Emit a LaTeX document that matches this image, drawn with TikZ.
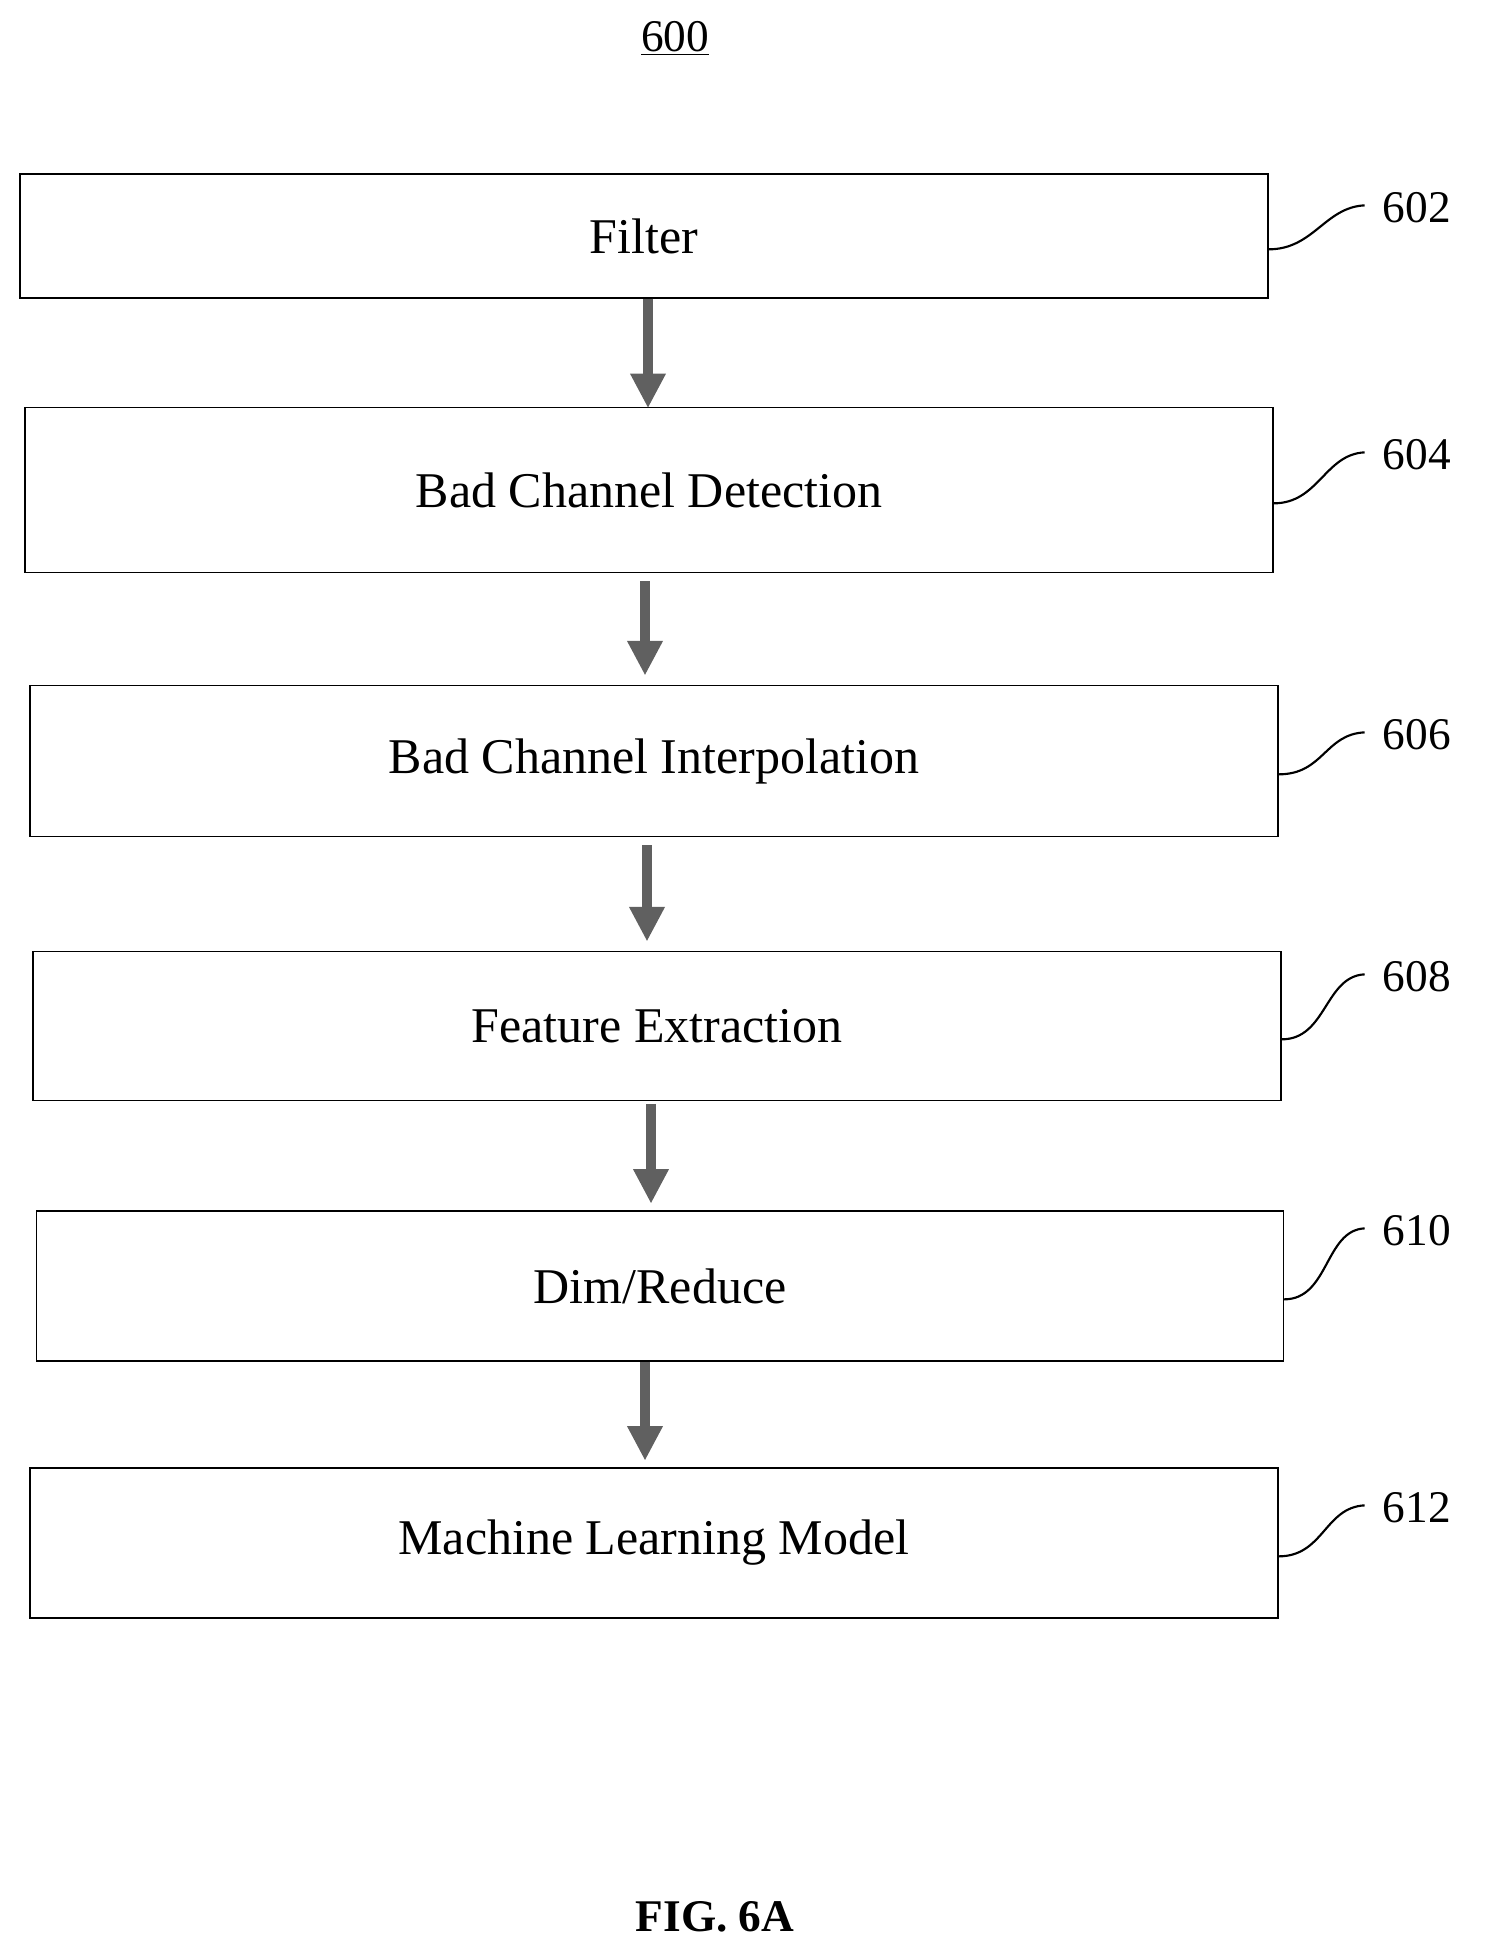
\documentclass[tikz,border=0pt]{standalone}
\usepackage{fontspec}
\setmainfont{Liberation Serif}
\usetikzlibrary{arrows.meta}
\begin{document}
\begin{tikzpicture}[x=0.75pt,y=-0.75pt,
  box/.style={draw,line width=0.9pt,inner sep=0pt,font=\fontsize{37.5}{44}\selectfont},
  flow/.style={draw=gray!75!black,line width=7pt,-{Triangle[length=26pt,width=25pt]},shorten >=-1pt},
  sq/.style={line width=1.6pt},
  ref/.style={font=\fontsize{34}{40}\selectfont,anchor=west}]
\useasboundingbox (0,0) rectangle (1486,1955);
\node at (675,38) {\fontsize{34}{40}\selectfont\underline{600}};
\node[box,minimum width=1248*0.75pt,minimum height=124*0.75pt] (b1) at (644,236) {Filter};
\node[box,minimum width=1248*0.75pt,minimum height=165*0.75pt] (b2) at (649,490) {Bad Channel Detection};
\node[box,minimum width=1248*0.75pt,minimum height=151*0.75pt] (b3) at (654,761) {Bad Channel Interpolation};
\node[box,minimum width=1248*0.75pt,minimum height=149*0.75pt] (b4) at (657,1026) {Feature Extraction};
\node[box,minimum width=1247*0.75pt,minimum height=150*0.75pt] (b5) at (660,1286) {Dim/Reduce};
\node[box,minimum width=1248*0.75pt,minimum height=150*0.75pt] (b6) at (654,1543) {Machine Learning Model};
\draw[flow] (648,0 |- b1.south) -- (648,0 |- b2.north);
\draw[flow] ([yshift=-6pt]645,0 |- b2.south) -- ([yshift=8pt]645,0 |- b3.north);
\draw[flow] ([yshift=-6pt]647,0 |- b3.south) -- ([yshift=8pt]647,0 |- b4.north);
\draw[flow] ([yshift=-2pt]651,0 |- b4.south) -- ([yshift=6pt]651,0 |- b5.north);
\draw[flow] (645,0 |- b5.south) -- ([yshift=6pt]645,0 |- b6.north);
\foreach \b/\n/\y in {b1/602/208,b2/604/455,b3/606/735,b4/608/977,b5/610/1231,b6/612/1508}{
  \node[ref] (l\n) at (1378,\y) {\n};
  \draw[sq] ([yshift=-10pt]\b.east) .. controls +(45,0) and +(-40,2) .. ([xshift=-10pt,yshift=2pt]l\n.west);
}
\node at (715,1917) {\fontsize{34}{40}\selectfont\bfseries FIG. 6A};
\end{tikzpicture}
\end{document}
